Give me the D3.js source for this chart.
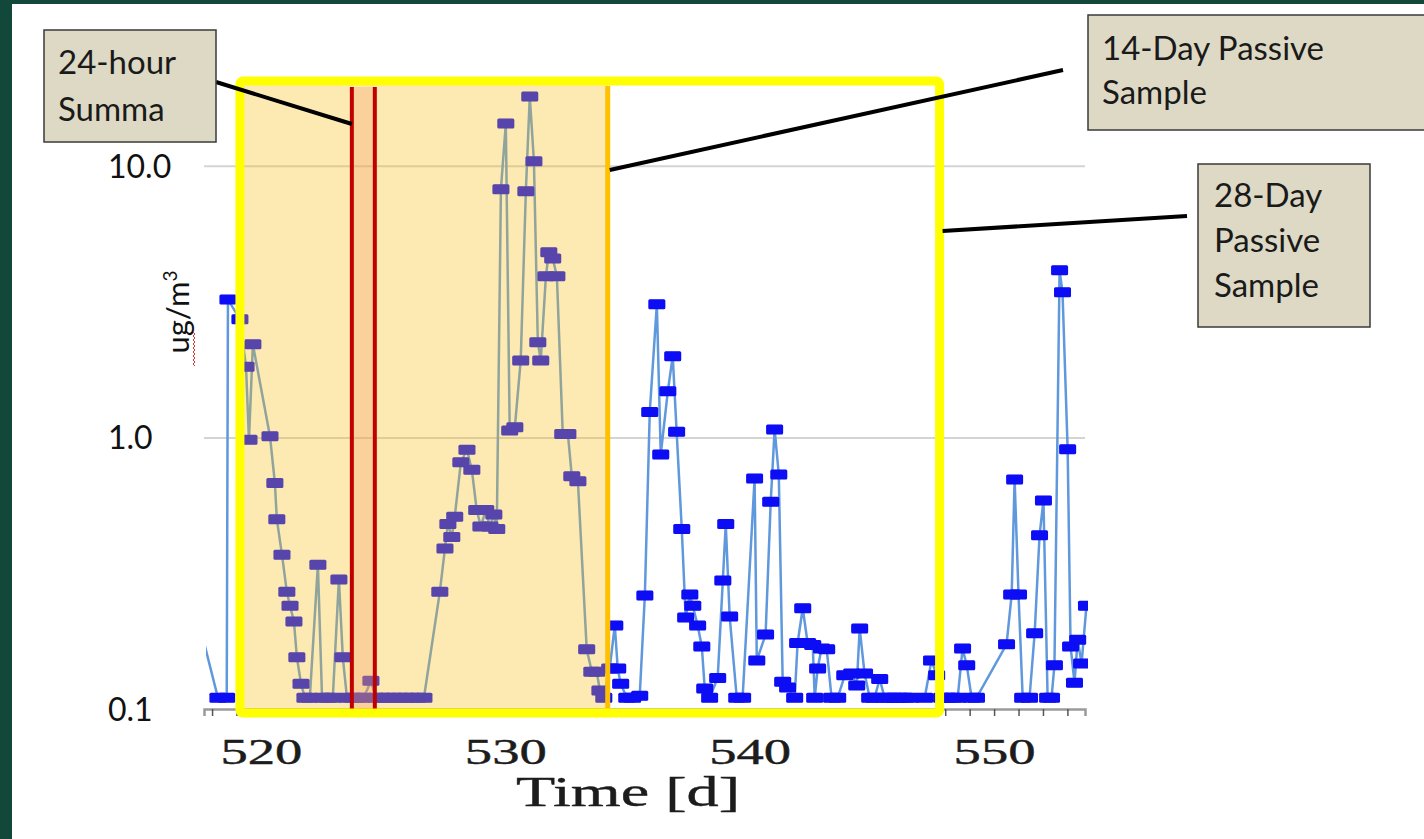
<!DOCTYPE html>
<html>
<head>
<meta charset="utf-8">
<script src="https://cdn.jsdelivr.net/npm/d3@7"></script>
<style>
  html, body { margin: 0; padding: 0; background: #11483a; }
  svg { display: block; }
</style>
</head>
<body>
<div id="chart"></div>
<script>
// time [d] and concentration [ug/m3]
const days = [
  517.4, 518.24, 518.6, 518.65, 519.14, 519.39, 519.51, 519.67, 520.37, 520.57,
  520.65, 520.86, 521.06, 521.19, 521.35, 521.47, 521.64, 521.8, 522.0, 522.33,
  522.5, 522.74, 522.94, 523.19, 523.35, 523.52, 523.76, 523.97, 524.21, 524.5,
  524.7, 524.95, 525.19, 525.44, 525.69, 525.93, 526.18, 526.42, 526.67, 527.32,
  527.53, 527.65, 527.81, 527.93, 528.18, 528.43, 528.63, 528.83, 529.0, 529.2,
  529.37, 529.53, 529.65, 529.82, 530.02, 530.18, 530.39, 530.63, 530.84, 531.0,
  531.17, 531.33, 531.45, 531.66, 531.78, 531.94, 532.11, 532.35, 532.56, 532.72,
  532.97, 533.33, 533.54, 533.74, 533.87, 534.03, 534.27, 534.48, 534.6, 534.72,
  534.97, 535.21, 535.5, 535.71, 535.91, 536.2, 536.36, 536.65, 536.85, 537.01,
  537.22, 537.38, 537.55, 537.67, 537.87, 538.04, 538.16, 538.36, 538.69, 538.9,
  539.02, 539.18, 539.47, 539.71, 540.2, 540.29, 540.65, 540.86, 541.02, 541.19,
  541.35, 541.55, 541.84, 541.96, 542.17, 542.37, 542.58, 542.66, 542.78, 542.94,
  543.15, 543.35, 543.6, 543.89, 544.17, 544.38, 544.5, 544.7, 544.91, 545.11,
  545.32, 545.52, 545.73, 545.93, 546.14, 546.34, 546.58, 547.16, 547.44, 547.65,
  547.85, 548.1, 548.3, 548.51, 548.71, 548.88, 549.08, 549.28, 550.51, 550.72,
  550.84, 551.0, 551.17, 551.45, 551.66, 551.86, 552.02, 552.19, 552.35, 552.47,
  552.68, 552.8, 553.01, 553.13, 553.29, 553.42, 553.58, 553.78
];
const conc = [
  0.22, 0.11, 0.11, 3.22, 2.72, 1.82, 0.98, 2.20, 1.01, 0.68,
  0.50, 0.37, 0.27, 0.24, 0.21, 0.155, 0.124, 0.11, 0.11, 0.34,
  0.11, 0.11, 0.11, 0.30, 0.155, 0.11, 0.11, 0.11, 0.11, 0.127,
  0.11, 0.11, 0.11, 0.11, 0.11, 0.11, 0.11, 0.11, 0.11, 0.27,
  0.39, 0.48, 0.43, 0.51, 0.81, 0.90, 0.76, 0.54, 0.47, 0.54,
  0.47, 0.52, 0.46, 8.2, 14.3, 1.06, 1.09, 1.92, 8.05, 18.0,
  10.4, 2.24, 1.92, 3.92, 4.8, 4.56, 3.92, 1.03, 1.03, 0.72,
  0.69, 0.166, 0.137, 0.137, 0.117, 0.11, 0.141, 0.203, 0.141, 0.124,
  0.11, 0.11, 0.112, 0.262, 1.24, 3.09, 0.865, 1.48, 1.99, 1.05,
  0.46, 0.217, 0.264, 0.24, 0.203, 0.17, 0.119, 0.11, 0.13, 0.297,
  0.48, 0.219, 0.11, 0.11, 0.706, 0.151, 0.188, 0.58, 1.07, 0.73,
  0.126, 0.12, 0.11, 0.175, 0.235, 0.175, 0.172, 0.11, 0.141, 0.167,
  0.166, 0.11, 0.11, 0.133, 0.135, 0.122, 0.198, 0.135, 0.11, 0.11,
  0.129, 0.11, 0.11, 0.11, 0.11, 0.11, 0.11, 0.11, 0.151, 0.133,
  0.11, 0.11, 0.11, 0.11, 0.167, 0.145, 0.11, 0.11, 0.173, 0.264,
  0.70, 0.264, 0.11, 0.11, 0.19, 0.436, 0.586, 0.11, 0.11, 0.145,
  4.12, 3.42, 0.904, 0.17, 0.125, 0.18, 0.147, 0.24
];

const xLabelDays = [520, 530, 540, 550];
const yTicks = [0.1, 1, 10];
const yTickLabels = ["0.1", "1.0", "10.0"];

// sampling windows [start, end] in days
const summaWindow = [523.72, 524.66];
const passive14 = [519.14, 534.19];
const passive28 = [519.14, 547.77];

const calloutTexts = [
  ["24-hour", "Summa"],
  ["14-Day Passive", "Sample"],
  ["28-Day", "Passive", "Sample"]
];

const data = days.map((d, i) => ({ t: d, v: conc[i] }));

const W = 1424, H = 839;
const svg = d3.select("#chart").append("svg").attr("width", W).attr("height", H);

svg.append("rect").attr("width", W).attr("height", H).attr("fill", "#11483a");
svg.append("rect").attr("x", 12).attr("y", 4).attr("width", W - 12).attr("height", H - 4).attr("fill", "#fff");

const plot = { left: 204, right: 1085, top: 84, bottom: 709 };

const x = d3.scaleLinear().domain([517.67, 553.72]).range([plot.left, plot.right]);
const y = d3.scaleLog().domain([0.1, 20]).range([plot.bottom, plot.top]);

const defs = svg.append("defs");
defs.append("clipPath").attr("id", "clip")
  .append("rect")
  .attr("x", plot.left + 2).attr("y", 0)
  .attr("width", plot.right - plot.left + 1).attr("height", plot.bottom + 6);

defs.append("filter").attr("id", "soft")
  .append("feGaussianBlur").attr("stdDeviation", 0.5);

// gridlines
svg.append("g")
  .attr("transform", `translate(${plot.left},0)`)
  .call(d3.axisLeft(y).tickValues([1, 10]).tickSize(-(plot.right - plot.left)).tickFormat(""))
  .call(g => g.select(".domain").remove())
  .call(g => g.selectAll("line").attr("stroke", "#d4d4d4").attr("stroke-width", 2));

// x axis with a tick each day
const xAxis = svg.append("g")
  .attr("transform", `translate(0,${plot.bottom})`)
  .call(d3.axisBottom(x).tickValues(d3.range(518, 554)).tickSize(7)
    .tickFormat(d => xLabelDays.includes(d) ? d : ""));
xAxis.select(".domain").attr("stroke", "#9a9a9a").attr("stroke-width", 2.5);
xAxis.selectAll("line").attr("stroke", "#555").attr("stroke-width", 1.5);
xAxis.selectAll("text")
  .attr("y", 55).attr("dy", 0)
  .attr("fill", "#1c1c1c")
  .style("font-family", "'Liberation Serif', 'DejaVu Serif', serif")
  .style("font-size", "36px")
  .style("stroke", "#1c1c1c").style("stroke-width", 0.4)
  .each(function (d) {
    if (xLabelDays.includes(d)) {
      d3.select(this).attr("textLength", 82).attr("lengthAdjust", "spacingAndGlyphs");
    }
  });

svg.append("text")
  .attr("x", 628).attr("y", 806)
  .attr("text-anchor", "middle")
  .attr("textLength", 224).attr("lengthAdjust", "spacingAndGlyphs")
  .style("font-family", "'Liberation Serif', 'DejaVu Serif', serif")
  .style("font-size", "43px")
  .style("stroke", "#1c1c1c").style("stroke-width", 0.4)
  .attr("fill", "#1c1c1c")
  .text("Time [d]");

// y tick labels
svg.append("g").selectAll("text")
  .data(yTicks)
  .join("text")
  .attr("x", 108)
  .attr("y", d => y(d) + 12)
  .style("font-family", "Lato, sans-serif")
  .style("font-size", "32px")
  .attr("fill", "#111")
  .text((d, i) => yTickLabels[i]);

// y axis title
const yTitle = svg.append("text")
  .attr("transform", "translate(189,312) rotate(-90)")
  .attr("text-anchor", "middle")
  .style("font-family", "Lato, sans-serif")
  .style("font-size", "31px")
  .attr("fill", "#111");
yTitle.append("tspan").text("ug/m");
yTitle.append("tspan").attr("dy", -12).style("font-size", "19px").text("3");

// spell-check squiggle under "ug"
const sq = d3.range(0, 36, 2).map((d, i) => [193 + (i % 2 ? 2 : 0), 332 + d]);
svg.append("path")
  .attr("d", d3.line()(sq))
  .attr("fill", "none").attr("stroke", "#e03030").attr("stroke-width", 1);

// data
const series = svg.append("g").attr("clip-path", "url(#clip)").attr("filter", "url(#soft)");
series.append("path")
  .datum(data)
  .attr("fill", "none")
  .attr("stroke", "#5f98dd")
  .attr("stroke-width", 2.5)
  .attr("d", d3.line().x(d => x(d.t)).y(d => y(d.v)));

series.selectAll("rect.pt")
  .data(data)
  .join("rect")
  .attr("class", "pt")
  .attr("x", d => x(d.t) - 8.5)
  .attr("y", d => y(d.v) - 5)
  .attr("width", 17).attr("height", 10)
  .attr("rx", 1.5)
  .attr("fill", "#0808f5");

// sampling window overlays
const yTop = 81, yBot = 713;
svg.append("rect")
  .attr("x", x(passive14[0])).attr("y", yTop)
  .attr("width", x(passive14[1]) - x(passive14[0])).attr("height", yBot - yTop)
  .attr("fill", "rgb(250,190,20)").attr("opacity", 0.32);

svg.append("rect")
  .attr("x", x(summaWindow[0])).attr("y", 87)
  .attr("width", x(summaWindow[1]) - x(summaWindow[0])).attr("height", plot.bottom - 87)
  .attr("fill", "rgb(245,150,100)").attr("opacity", 0.3);

summaWindow.forEach(t => {
  svg.append("line")
    .attr("x1", x(t)).attr("x2", x(t))
    .attr("y1", 87).attr("y2", plot.bottom)
    .attr("stroke", "#c00000").attr("stroke-width", 4);
});

svg.append("line")
  .attr("x1", x(passive14[1])).attr("x2", x(passive14[1]))
  .attr("y1", 86).attr("y2", yBot - 4)
  .attr("stroke", "#ffc000").attr("stroke-width", 5);

svg.append("rect")
  .attr("x", x(passive28[0])).attr("y", yTop)
  .attr("width", x(passive28[1]) - x(passive28[0])).attr("height", yBot - yTop)
  .attr("rx", 3)
  .attr("fill", "none").attr("stroke", "#ffff00").attr("stroke-width", 9);

// callouts
const boxes = [
  { x: 44, y: 30, w: 172, h: 112, tx: 58, ty: 74, lh: 47, line: [216, 82, x(summaWindow[0]), 124] },
  { x: 1088, y: 15, w: 345, h: 115, tx: 1102, ty: 60, lh: 44, line: [x(passive14[1]) + 2, 170, 1063, 70] },
  { x: 1198, y: 164, w: 172, h: 163, tx: 1214, ty: 207, lh: 45, line: [x(passive28[1]) + 3, 231, 1187, 216] }
];

boxes.forEach((b, i) => {
  svg.append("line")
    .attr("x1", b.line[0]).attr("y1", b.line[1])
    .attr("x2", b.line[2]).attr("y2", b.line[3])
    .attr("stroke", "#000").attr("stroke-width", 4);
  svg.append("rect")
    .attr("x", b.x).attr("y", b.y).attr("width", b.w).attr("height", b.h)
    .attr("fill", "#ddd9c4").attr("stroke", "#3a3a3a").attr("stroke-width", 1.5);
  svg.append("g").selectAll("text")
    .data(calloutTexts[i])
    .join("text")
    .attr("x", b.tx)
    .attr("y", (d, j) => b.ty + j * b.lh)
    .style("font-family", "Lato, sans-serif")
    .style("font-size", "33px")
    .attr("fill", "#1a1a1a")
    .text(d => d);
});
</script>
</body>
</html>
